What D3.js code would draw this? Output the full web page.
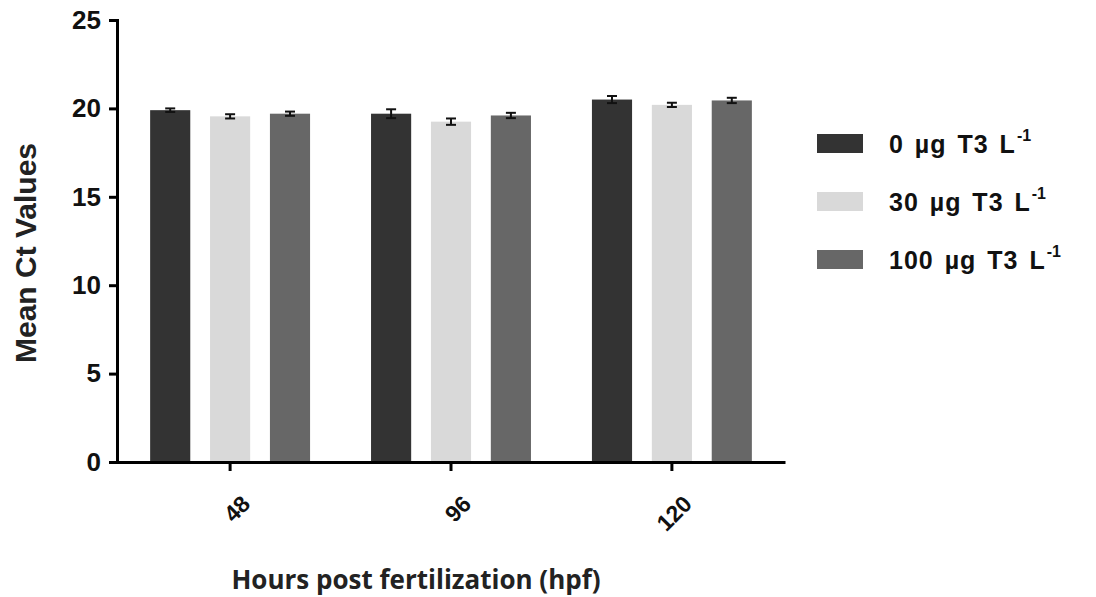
<!DOCTYPE html>
<html>
<head>
<meta charset="utf-8">
<script src="https://cdn.jsdelivr.net/npm/d3@7"></script>
<style>
  body { margin: 0; background: #fff; }
  text { font-family: "Liberation Sans", Arial, sans-serif; }
</style>
</head>
<body>
<script>
// hpf groups
const groups = ["48", "96", "120"];
const seriesNames = ["0 µg T3 L", "30 µg T3 L", "100 µg T3 L"];
const seriesColors = ["#333333", "#d9d9d9", "#676767"];
// mean Ct values per series, per group
const means = [
  [19.9, 19.7, 20.5],
  [19.55, 19.25, 20.2],
  [19.7, 19.6, 20.45]
];
const errs = [
  [0.1, 0.25, 0.2],
  [0.12, 0.18, 0.12],
  [0.12, 0.15, 0.15]
];
const yTicks = [0, 5, 10, 15, 20, 25];

const width = 1096, height = 597;
const margin = {top: 20, right: 311, bottom: 135, left: 117};

const svg = d3.select("body").append("svg")
  .attr("width", width)
  .attr("height", height);

const x = d3.scaleBand()
  .domain(groups)
  .range([margin.left, width - margin.right])
  .paddingInner(0.276)
  .paddingOuter(0.15);

const xs = d3.scaleBand()
  .domain(d3.range(seriesNames.length))
  .range([0, x.bandwidth()])
  .paddingInner(0.33);

const y = d3.scaleLinear()
  .domain([0, 25])
  .range([height - margin.bottom, margin.top]);

// bars
const data = [];
groups.forEach((g, gi) => {
  seriesNames.forEach((s, si) => {
    data.push({g, si, v: means[si][gi], e: errs[si][gi]});
  });
});

svg.append("g").selectAll("rect")
  .data(data)
  .join("rect")
  .attr("x", d => x(d.g) + xs(d.si))
  .attr("y", d => y(d.v))
  .attr("width", xs.bandwidth())
  .attr("height", d => y(0) - y(d.v))
  .attr("fill", d => seriesColors[d.si]);

// error bars
const eb = svg.append("g").attr("stroke", "#111").attr("stroke-width", 2);
data.forEach(d => {
  const cx = x(d.g) + xs(d.si) + xs.bandwidth() / 2;
  eb.append("line").attr("x1", cx).attr("x2", cx).attr("y1", y(d.v + d.e)).attr("y2", y(d.v - d.e));
  eb.append("line").attr("x1", cx - 5).attr("x2", cx + 5).attr("y1", y(d.v + d.e)).attr("y2", y(d.v + d.e));
  eb.append("line").attr("x1", cx - 5).attr("x2", cx + 5).attr("y1", y(d.v - d.e)).attr("y2", y(d.v - d.e));
});

// y axis
const yAxis = svg.append("g")
  .attr("transform", `translate(${margin.left},0)`)
  .call(d3.axisLeft(y).tickValues(yTicks).tickSize(8).tickPadding(8));
yAxis.select(".domain").attr("stroke", "#000").attr("stroke-width", 3);
yAxis.selectAll(".tick line").attr("stroke", "#000").attr("stroke-width", 3);
yAxis.selectAll(".tick text")
  .attr("fill", "#111")
  .attr("font-size", 26)
  .attr("font-weight", "bold");

// x axis
const xAxis = svg.append("g")
  .attr("transform", `translate(0,${y(0)})`)
  .call(d3.axisBottom(x).tickSize(9).tickSizeOuter(0));
xAxis.select(".domain").attr("stroke", "#000").attr("stroke-width", 3);
xAxis.selectAll(".tick line").attr("stroke", "#000").attr("stroke-width", 3);
xAxis.selectAll(".tick text")
  .attr("fill", "#111")
  .attr("font-size", 23)
  .attr("font-weight", "bold")
  .attr("text-anchor", "end")
  .attr("dy", 0)
  .attr("transform", "translate(13,35) rotate(-45)");

// axis titles
svg.append("text")
  .attr("transform", `translate(36,${(y(0) + y(25)) / 2 + 12}) rotate(-90)`)
  .attr("text-anchor", "middle")
  .attr("font-size", 30)
  .attr("font-weight", "bold")
  .attr("fill", "#222")
  .text("Mean Ct Values");

svg.append("text")
  .attr("x", 416)
  .attr("y", 589)
  .attr("text-anchor", "middle")
  .style("font-family", "'Open Sans', sans-serif")
  .attr("font-size", 26)
  .attr("font-weight", "bold")
  .attr("fill", "#222")
  .text("Hours post fertilization (hpf)");

// legend
const legend = svg.append("g");
seriesNames.forEach((s, i) => {
  const ly = 144 + i * 58;
  legend.append("rect")
    .attr("x", 817).attr("y", ly - 10)
    .attr("width", 46).attr("height", 19)
    .attr("fill", seriesColors[i]);
  const t = legend.append("text")
    .attr("x", 889).attr("y", ly + 9)
    .attr("font-size", 25)
    .attr("font-weight", "bold")
    .attr("letter-spacing", 1)
    .attr("word-spacing", 3)
    .attr("fill", "#111")
    .text(s);
  t.append("tspan")
    .attr("dy", -12)
    .attr("dx", 1)
    .attr("font-size", 16)
    .attr("letter-spacing", 0)
    .text("-1");
});
</script>
</body>
</html>
